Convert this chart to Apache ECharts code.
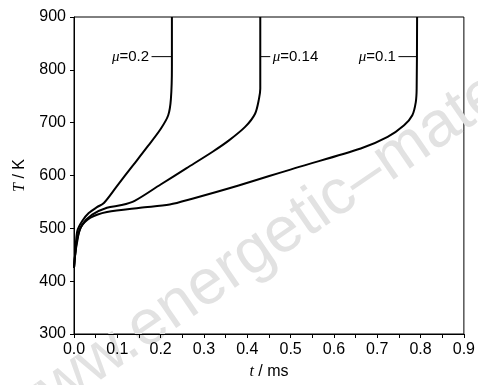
<!DOCTYPE html>
<html>
<head>
<meta charset="utf-8">
<script src="https://cdn.jsdelivr.net/npm/echarts@6/dist/echarts.min.js"></script>
<style>
  html, body { margin: 0; padding: 0; background: #fff; }
  #chart { width: 478px; height: 385px; }
</style>
</head>
<body>
<div id="chart"></div>
<script>
// values (t in ms, T in K)
const t01 = [0, 0.003, 0.008, 0.015, 0.038, 0.076, 0.153, 0.221, 0.273, 0.38, 0.51, 0.662, 0.724, 0.762, 0.781, 0.789, 0.791, 0.792]
const T01 = [425, 452, 478, 501, 520, 531, 539, 545, 556, 581, 614, 651, 673, 695, 714, 739, 764, 900]

const t014 = [0, 0.003, 0.008, 0.019, 0.042, 0.076, 0.11, 0.14, 0.2, 0.26, 0.32, 0.357, 0.395, 0.418, 0.427, 0.43, 0.43]
const T014 = [425, 453, 482, 507, 526, 539, 544, 552, 583, 614, 645, 666, 692, 717, 745, 764, 900]

const t02 = [0, 0.003, 0.0076, 0.019, 0.034, 0.053, 0.069, 0.1, 0.137, 0.17, 0.2, 0.2175, 0.2237, 0.226, 0.226]
const T02 = [425, 455, 495, 514, 529, 540, 548, 581, 620, 655, 688, 714, 745, 807, 900]

const curveNames = ['μ=0.1', 'μ=0.14', 'μ=0.2']
const labelMu = ['0.1', '0.14', '0.2']
// leader lines from label text to curve
const leaderT = [[0.749, 0.792], [0.43, 0.453], [0.179, 0.226]]
const leaderY = 825

const xTicks = ['0.0', '0.1', '0.2', '0.3', '0.4', '0.5', '0.6', '0.7', '0.8', '0.9']

const pairs = (xs, ys) => xs.map((x, i) => [x, ys[i]])
const curves = [pairs(t01, T01), pairs(t014, T014), pairs(t02, T02)]

const chart = echarts.init(document.getElementById('chart'), null, { renderer: 'canvas' })

const baseFont = 'Liberation Sans, Arial, sans-serif'
const italicRich = {
  it: { fontFamily: 'Liberation Serif, Times New Roman, serif', fontStyle: 'italic', fontSize: 16, color: '#000' },
  n: { fontFamily: baseFont, fontSize: 16, color: '#000' },
}
const muRich = {
  mu: { fontFamily: 'Liberation Serif, serif', fontStyle: 'italic', fontSize: 15, color: '#000' },
  n: { fontFamily: baseFont, fontSize: 15, color: '#000' },
}

const curveSeries = curves.map((data, i) => ({
  name: curveNames[i],
  type: 'line',
  data,
  showSymbol: false,
  smooth: 0.3,
  lineStyle: { color: '#000', width: 2 },
  z: 3,
}))

const leaderSeries = leaderT.map((pair, i) => {
  const labelAtLeft = i !== 1
  return {
    name: 'leader ' + curveNames[i],
    type: 'line',
    data: pair.map((t, j) => ({
      value: [t, leaderY],
      label: {
        show: labelAtLeft ? j === 0 : j === 1,
        position: labelAtLeft ? 'left' : 'right',
        distance: 2,
        formatter: '{mu|μ}{n|=' + labelMu[i] + '}',
        rich: muRich,
      },
    })),
    showSymbol: true,
    symbol: 'circle',
    symbolSize: 1,
    itemStyle: { color: 'rgba(0,0,0,0)' },
    lineStyle: { color: '#000', width: 1 },
    z: 3,
  }
})

chart.setOption({
  animation: false,
  textStyle: { fontFamily: baseFont },
  graphic: [
    {
      type: 'text',
      x: -11,
      y: 396,
      rotation: 0.6,
      z: 0,
      silent: true,
      style: {
        text: 'www.energetic–materials.org.cn',
        fontFamily: baseFont,
        fontSize: 64,
        fill: '#e2e2e2',
      },
    },
  ],
  grid: {
    left: 74,
    right: 11,
    top: 17,
    bottom: 48,
    show: true,
    borderColor: '#000',
    borderWidth: 1,
    backgroundColor: 'transparent',
  },
  xAxis: {
    type: 'value',
    min: 0,
    max: 0.9,
    interval: 0.1,
    name: '{it|t}{n| / ms}',
    nameLocation: 'middle',
    nameGap: 30,
    nameTextStyle: { rich: italicRich },
    axisLine: { onZero: false, lineStyle: { color: '#000', width: 1 } },
    axisTick: { show: true, inside: false, length: 4, lineStyle: { color: '#000' } },
    minorTick: { show: true, splitNumber: 2, length: 4, lineStyle: { color: '#000' } },
    splitLine: { show: false },
    axisLabel: {
      color: '#000',
      fontSize: 16,
      margin: 8,
      formatter: (v) => xTicks[Math.round(v * 10)] ?? v.toFixed(1),
    },
  },
  yAxis: {
    type: 'value',
    min: 300,
    max: 900,
    interval: 100,
    name: '{it|T}{n| / K}',
    nameLocation: 'middle',
    nameGap: 46,
    nameTextStyle: { rich: italicRich },
    axisLine: { show: true, lineStyle: { color: '#000', width: 1 } },
    axisTick: { show: true, inside: false, length: 4, lineStyle: { color: '#000' } },
    splitLine: { show: false },
    axisLabel: { color: '#000', fontSize: 16, margin: 8 },
  },
  series: [...curveSeries, ...leaderSeries],
})
</script>
</body>
</html>
